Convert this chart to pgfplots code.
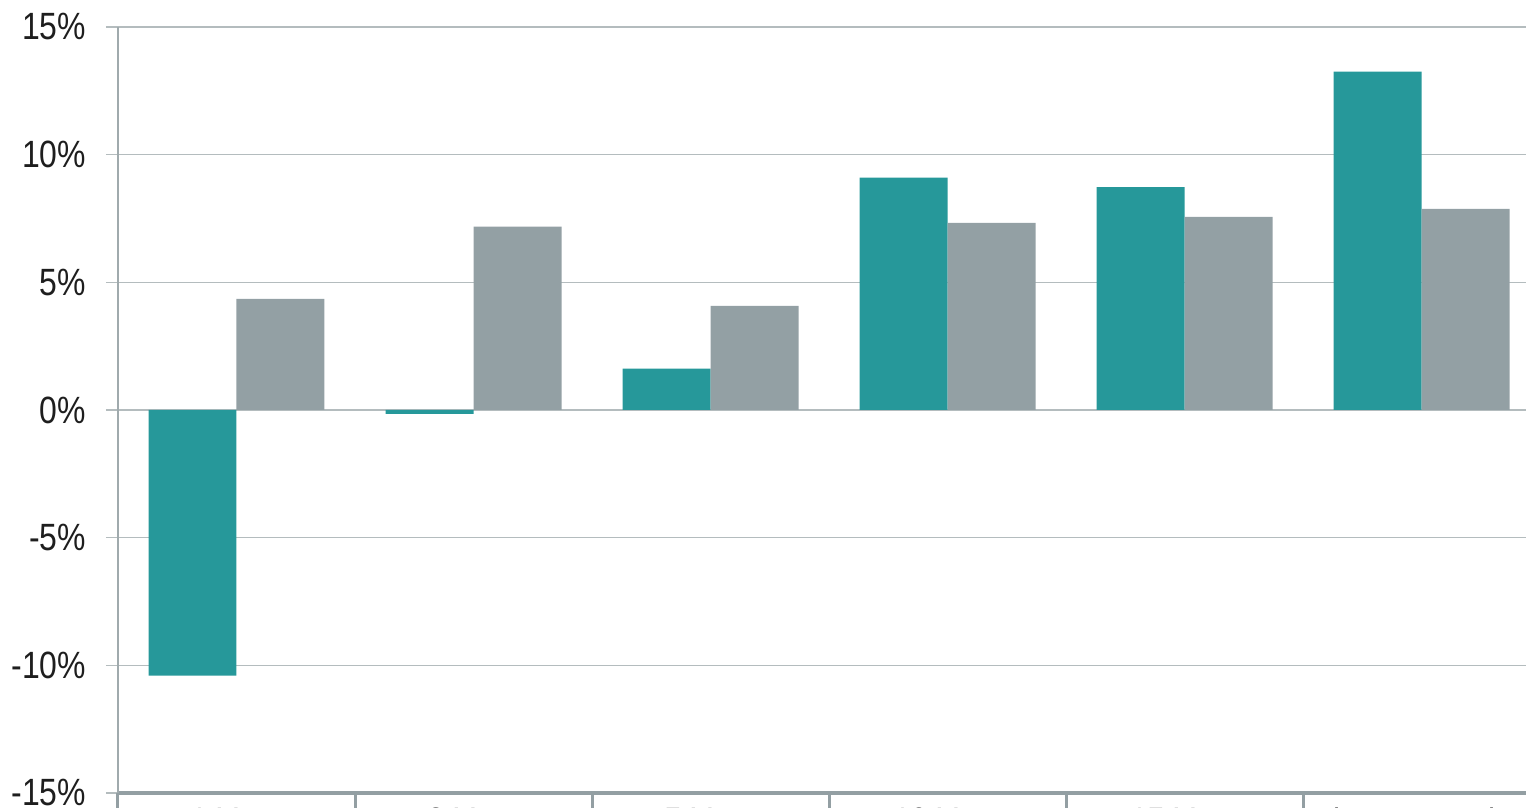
\documentclass[border=0pt]{standalone}
\usepackage{pgfplots}
\pgfplotsset{compat=1.18}
\usepackage{fontspec}
\setmainfont{Liberation Sans}[FakeStretch=0.84]
\definecolor{cteal}{HTML}{26989A}
\definecolor{cgray}{HTML}{93A0A4}
\definecolor{cgrid}{HTML}{B4BCBE}
\definecolor{caxis}{HTML}{A0AAAD}
\definecolor{cbot}{HTML}{939FA3}
\definecolor{ctext}{HTML}{1E1E1E}
\begin{document}
\begin{tikzpicture}
\begin{axis}[
  at={(0,0)}, anchor=south west,
  scale only axis, width=711pt, height=383pt,
  xmin=-0.5, xmax=5.5, ymin=-15, ymax=15,
  ybar=0pt, bar width=0.3713,
  axis x line=bottom, axis y line=left,
  axis line style={-},
  x axis line style={draw=cbot, line width=2pt},
  y axis line style={draw=caxis, line width=0.6pt},
  ytick={-15,-10,...,15},
  yticklabels={-15\%,-10\%,-5\%,0\%,5\%,10\%,15\%},
  yticklabel style={xshift=-6.5pt},
  ymajorgrids, grid style={cgrid, line width=0.6pt},
  tick align=outside, major tick length=6pt,
  y tick style={cgrid, line width=0.6pt},
  xtick={0,...,5},
  xticklabels={1 Year,3 Year,5 Year,10 Year,15 Year,Since Inception},
  xticklabel style={inner sep=0pt, yshift=-1.5pt},
  major x tick style={draw=none},
  extra x ticks={-0.5,0.5,1.5,2.5,3.5,4.5,5.5},
  extra x tick labels={},
  extra x tick style={major tick length=40pt, grid=none,
     every major x tick/.style={draw=cbot, line width=1.5pt}},
  tick label style={font=\fontsize{19}{22}\selectfont, text=ctext},
]
\addplot[fill=cteal, draw=none] coordinates {(0,-10.4) (1,-0.15) (2,1.62) (3,9.1) (4,8.73) (5,13.25)};
\addplot[fill=cgray, draw=none] coordinates {(0,4.35) (1,7.18) (2,4.08) (3,7.33) (4,7.56) (5,7.88)};
\end{axis}
\pgfresetboundingbox
\useasboundingbox (-59pt,-7.5pt) rectangle (704pt,396.5pt);
\end{tikzpicture}
\end{document}
